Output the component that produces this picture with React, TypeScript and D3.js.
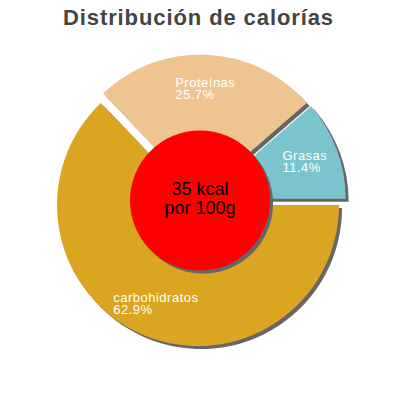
import React, { useEffect, useRef } from 'react';
import * as d3 from 'd3';

const title = 'Distribución de calorías';
const categories = ['Grasas', 'Proteínas', 'carbohidratos'];
const percents = [11.4, 25.7, 62.9];
const colors = ['#7AC5CD', '#EEC591', '#DAA520'];
const centerLines = ['35 kcal', 'por 100g'];

const FONT = "'Liberation Sans', Arial, sans-serif";

export default function App() {
  const ref = useRef<SVGSVGElement>(null);

  useEffect(() => {
    document.body.style.margin = '0';
    const svg = d3.select(ref.current);
    svg.selectAll('*').remove();

    const cx = 200, cy = 200.5, R = 141, explode = 5, shadow = 3, innerR = 70, labelR = 107;

    svg.append('text')
      .attr('x', 198.5).attr('y', 25)
      .attr('text-anchor', 'middle')
      .attr('font-family', FONT).attr('font-weight', 'bold').attr('font-size', 22)
      .attr('letter-spacing', 0.9)
      .attr('fill', '#444')
      .text(title);

    const pie = d3.pie<number>().sort(null)
      .startAngle(Math.PI / 2).endAngle(Math.PI / 2 - 2 * Math.PI);
    const arcs = pie(percents);
    const arc = d3.arc<d3.PieArcDatum<number>>().innerRadius(0).outerRadius(R);

    const g = svg.append('g').attr('transform', `translate(${cx},${cy})`);
    const dir = (a: d3.PieArcDatum<number>) => {
      const m = (a.startAngle + a.endAngle) / 2;
      return [Math.sin(m), -Math.cos(m)];
    };

    arcs.forEach((a, i) => {
      const [ux, uy] = dir(a);
      g.append('path').attr('d', arc(a) as string).attr('fill', '#666')
        .attr('transform', `translate(${ux * explode + shadow},${uy * explode + shadow})`);
      g.append('path').attr('d', arc(a) as string).attr('fill', colors[i])
        .attr('transform', `translate(${ux * explode},${uy * explode})`);
    });

    g.append('circle').attr('cx', shadow).attr('cy', shadow).attr('r', innerR).attr('fill', '#666');
    g.append('circle').attr('cx', 0).attr('cy', 0).attr('r', innerR).attr('fill', '#FF0000');

    g.append('text').attr('x', 0).attr('y', -5.5)
      .attr('text-anchor', 'middle').attr('font-family', FONT).attr('font-size', 18).attr('fill', '#000')
      .text(centerLines[0]);
    g.append('text').attr('x', 0).attr('y', 13.5)
      .attr('text-anchor', 'middle').attr('font-family', FONT).attr('font-size', 18).attr('fill', '#000')
      .text(centerLines[1]);

    arcs.forEach((a, i) => {
      const [ux, uy] = dir(a);
      const px = ux * (explode + labelR);
      const py = uy * (explode + labelR);
      const lg = g.append('g');
      const lines = [categories[i], `${percents[i].toFixed(1)}%`];
      const texts = lines.map((t, j) =>
        lg.append('text')
          .attr('y', py - 1.3 + j * 12)
          .attr('font-family', FONT).attr('font-size', 13)
          .attr('letter-spacing', 0.5)
          .attr('fill', '#fff')
          .text(t)
      );
      const w = Math.max(...texts.map((t) => (t.node() as SVGTextElement).getComputedTextLength()));
      texts.forEach((t) => t.attr('x', px - w / 2));
    });
  }, []);

  return <svg ref={ref} width={400} height={400} style={{ display: 'block' }} />;
}
